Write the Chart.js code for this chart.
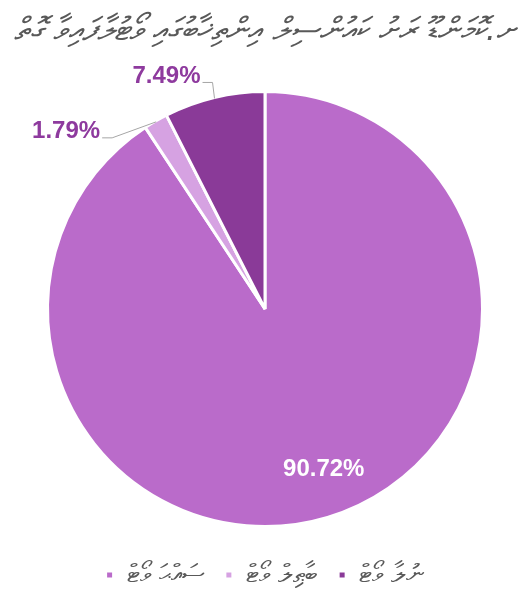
<!DOCTYPE html>
<html>
<head>
<meta charset="utf-8">
<script src="https://cdn.jsdelivr.net/npm/chart.js@4.4.1/dist/chart.umd.min.js"></script>
<style>
  html, body { margin: 0; padding: 0; background: #fff; }
  #wrap { width: 532px; height: 590px; }
</style>
</head>
<body>
<div id="wrap"><canvas id="votepie"></canvas></div>
<script>
"use strict";
var chartTitle = "ށ.ކޮމަންޑޫ ރަށު ކައުންސިލް އިންތިޚާބުގައި ވޯޓުލާފައިވާ ގޮތް";
var categories = ["ސައްޙަ ވޯޓް", "ބާޠިލް ވޯޓް", "ނުލާ ވޯޓް"];
var shares = [90.72, 1.79, 7.49];
var sliceColors = ["#BA6BCA", "#D6A2E2", "#8A3A98"];

// labels drawn from each arc's own geometry
var pieLabels = {
  id: "pieLabels",
  afterDatasetsDraw: function (chart, args, opts) {
    var ctx = chart.ctx,
      meta = chart.getDatasetMeta(0),
      values = chart.data.datasets[0].data;
    ctx.save();
    ctx.font = opts.font;
    ctx.textBaseline = "middle";
    meta.data.forEach(function (arc, i) {
      var p = arc.getProps(["x", "y", "startAngle", "endAngle", "outerRadius"], true),
        mid = (p.startAngle + p.endAngle) / 2,
        cx = Math.cos(mid),
        cy = Math.sin(mid),
        set = opts.place[i],
        txt = values[i].toFixed(2) + "%";
      if (set.inside) {
        ctx.fillStyle = "#ffffff";
        ctx.textAlign = "center";
        ctx.fillText(txt, p.x + cx * p.outerRadius * set.dist + set.nudge[0], p.y + cy * p.outerRadius * set.dist + set.nudge[1]);
        return;
      }
      var ex = p.x + cx * (p.outerRadius - 1),
        ey = p.y + cy * (p.outerRadius - 1),
        kx = ex + set.elbow[0],
        ky = ey + set.elbow[1];
      ctx.strokeStyle = "#A6A6A6";
      ctx.lineWidth = 1;
      ctx.beginPath();
      ctx.moveTo(ex, ey);
      ctx.lineTo(kx, ky);
      ctx.lineTo(kx - 10, ky);
      ctx.stroke();
      ctx.fillStyle = opts.color;
      ctx.textAlign = "right";
      ctx.fillText(txt, kx - 12, ky - 6);
    });
    ctx.restore();
  },
};

document.addEventListener("DOMContentLoaded", function () {
  var c = document.getElementById("votepie").getContext("2d");
  new Chart(c, {
    type: "pie",
    data: {
      labels: categories,
      datasets: [
        {
          data: shares,
          backgroundColor: sliceColors,
          borderColor: "#ffffff",
          borderWidth: 3,
          hoverOffset: 0,
          clip: false,
        },
      ],
    },
    options: {
      responsive: true,
      maintainAspectRatio: false,
      animation: false,
      radius: 217.5,
      layout: { padding: { left: 0, right: 2, top: 0, bottom: -8 } },
      plugins: {
        title: {
          display: true,
          text: chartTitle,
          color: "#595959",
          font: { family: "'DejaVu Sans', 'Noto Sans', sans-serif", size: 32, style: "italic", weight: "normal" },
          padding: { top: 12, bottom: 25.6 },
        },
        legend: {
          position: "bottom",
          labels: {
            color: "#595959",
            boxWidth: 8,
            boxHeight: 8,
            padding: 20,
            font: { family: "'DejaVu Sans', 'Noto Sans', sans-serif", size: 26 },
          },
        },
        tooltip: { enabled: false },
        pieLabels: {
          font: "bold 24px 'Liberation Sans', Arial, sans-serif",
          color: "#8E3A9E",
          place: [
            { inside: true, dist: 0.78, nudge: [10, -2] },
            { elbow: [-44, 16] },
            { elbow: [-2, -16] },
          ],
        },
      },
    },
    plugins: [pieLabels],
  });
});
</script>
</body>
</html>
